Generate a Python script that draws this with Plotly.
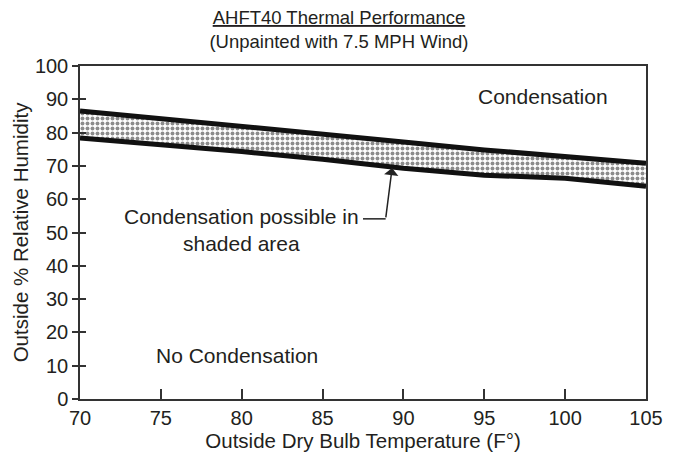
import plotly.graph_objects as go

# Data
temps = [70, 75, 80, 85, 90, 95, 100, 105]
upper_rh = [86.5, 84.2, 82.0, 79.8, 77.2, 74.8, 72.8, 70.8]
lower_rh = [78.4, 76.5, 74.3, 72.0, 69.3, 67.2, 66.3, 63.9]
x_ticks = [70, 75, 80, 85, 90, 95, 100, 105]
y_ticks = [0, 10, 20, 30, 40, 50, 60, 70, 80, 90, 100]

FONT = "Arial, Liberation Sans, Helvetica, sans-serif"
TXT = "#231f20"

# page body has an 8px margin; size the figure so it fits in the window
W, H = 670, 448

fig = go.Figure()
fig.add_trace(go.Scatter(x=temps, y=lower_rh, mode="lines",
                         line=dict(color="#111111", width=5),
                         showlegend=False, hoverinfo="skip"))
fig.add_trace(go.Scatter(x=temps, y=upper_rh, mode="lines", fill="tonexty",
                         fillcolor="white",
                         fillpattern=dict(shape=".", fgcolor="#1a1a1a", bgcolor="white",
                                          size=5, solidity=0.5),
                         line=dict(color="#111111", width=5),
                         showlegend=False, hoverinfo="skip"))

fig.update_layout(
    width=W, height=H,
    margin=dict(l=72, r=32, t=58, b=57),
    paper_bgcolor="white", plot_bgcolor="white",
    font=dict(family=FONT, color=TXT, size=20),
    title=dict(text="<u>AHFT40 Thermal Performance</u><br>(Unpainted with 7.5 MPH Wind)",
               x=0.494, xanchor="center", xref="container", y=1 - 16 / H, yanchor="top",
               yref="container", font=dict(size=18.5, family=FONT, color=TXT)),
    xaxis=dict(range=[70, 105], tickvals=x_ticks, ticktext=[str(v) for v in x_ticks],
               ticks="inside", ticklen=10, tickwidth=1.5, tickcolor="#333",
               showline=True, linecolor="#333", linewidth=1.5, mirror=True,
               showgrid=False, zeroline=False,
               tickfont=dict(size=20),
               title=dict(text="Outside Dry Bulb Temperature (F°)", font=dict(size=20.5), standoff=0)),
    yaxis=dict(range=[0, 100], tickvals=y_ticks, ticktext=[str(v) for v in y_ticks],
               ticks="outside", ticklen=6, tickwidth=1.5, tickcolor="#333",
               showline=True, linecolor="#333", linewidth=1.5, mirror=True,
               showgrid=False, zeroline=False,
               tickfont=dict(size=20),
               title=dict(text="Outside % Relative Humidity", font=dict(size=20.5), standoff=1)),
    yaxis2=dict(range=[0, 100], tickvals=y_ticks, overlaying="y", side="left",
                showticklabels=False, ticks="inside", ticklen=6, tickwidth=1.5,
                tickcolor="#333", showgrid=False, zeroline=False, showline=False),
)
# invisible trace to activate yaxis2
fig.add_trace(go.Scatter(x=[70], y=[0], yaxis="y2", mode="markers",
                         marker=dict(opacity=0), showlegend=False, hoverinfo="skip"))

fig.add_annotation(x=98.6, y=90.7, text="Condensation", showarrow=False,
                   font=dict(size=21, family=FONT, color=TXT))
fig.add_annotation(x=79.7, y=13.2, text="No Condensation", showarrow=False,
                   font=dict(size=21, family=FONT, color=TXT))
fig.add_annotation(x=80.0, y=50.7, text="Condensation possible in<br>shaded area",
                   showarrow=False, align="center",
                   font=dict(size=21, family=FONT, color=TXT))
# leader line
fig.add_shape(type="line", x0=87.5, y0=54.1, x1=88.9, y1=54.1,
              line=dict(color="#222", width=1.5))
fig.add_annotation(x=89.3, y=69.4, ax=88.9, ay=54.1, axref="x", ayref="y",
                   text="", showarrow=True, arrowhead=1, arrowsize=1.6,
                   arrowwidth=1.5, arrowcolor="#222")

fig.write_html("out.html")
